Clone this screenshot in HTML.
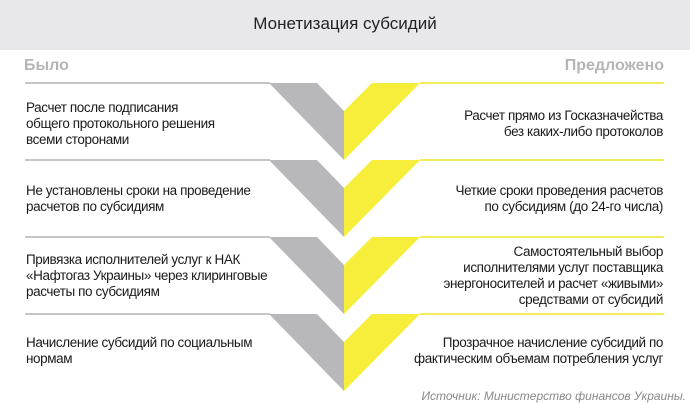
<!DOCTYPE html>
<html><head><meta charset="utf-8"><style>
*{margin:0;padding:0;box-sizing:border-box}
body{width:690px;height:405px;background:#fff;font-family:"Liberation Sans",sans-serif;position:relative;overflow:hidden}
.hdr{position:absolute;left:0;top:0;width:690px;height:50px;background:#e8e8ea;text-align:center;font-size:17px;line-height:48px;color:#222}
.lbl{position:absolute;top:57px;font-size:16px;font-weight:bold;color:#b5b5b5}
.t{position:absolute;font-size:13.5px;line-height:16px;color:#1a1a1a;display:flex;align-items:center;height:77px;white-space:nowrap;letter-spacing:-0.4px}
.l{left:26px;width:300px}
.r{right:27px;width:320px;justify-content:flex-end;text-align:right}
.src{position:absolute;right:4px;top:389px;font-size:12px;font-style:italic;color:#888}
</style></head><body>
<div class="hdr">Монетизация субсидий</div>
<div class="lbl" style="left:24px">Было</div>
<div class="lbl" style="right:26px">Предложено</div>
<svg width="690" height="405" style="position:absolute;left:0;top:0">
<g id="row">
<rect x="25" y="82" width="245" height="2" fill="#c6c6c8"/>
<rect x="420" y="82" width="244" height="2" fill="#f4ec5a"/>
<polygon points="269,83 317,83 344,111 344,160" fill="#b8b8ba"/>
<polygon points="372,83 420,83 344,160 344,111" fill="#f6ee3a"/>
</g>
<use href="#row" y="77"/>
<use href="#row" y="154"/>
<use href="#row" y="231"/>
</svg>
<div class="t l" style="top:85px"><div>Расчет после подписания<br>общего протокольного решения<br>всеми сторонами</div></div>
<div class="t r" style="top:85px"><div>Расчет прямо из Госказначейства<br>без каких-либо протоколов</div></div>
<div class="t l" style="top:160px"><div>Не установлены сроки на проведение<br>расчетов по субсидиям</div></div>
<div class="t r" style="top:160px"><div>Четкие сроки проведения расчетов<br>по субсидиям (до 24-го числа)</div></div>
<div class="t l" style="top:237px"><div>Привязка исполнителей услуг к НАК<br>«Нафтогаз Украины» через клиринговые<br>расчеты по субсидиям</div></div>
<div class="t r" style="top:237px"><div>Самостоятельный выбор<br>исполнителями услуг поставщика<br>энергоносителей и расчет «живыми»<br>средствами от субсидий</div></div>
<div class="t l" style="top:312px"><div>Начисление субсидий по социальным<br>нормам</div></div>
<div class="t r" style="top:312px"><div>Прозрачное начисление субсидий по<br>фактическим объемам потребления услуг</div></div>
<div class="src">Источник: Министерство финансов Украины.</div>
</body></html>
